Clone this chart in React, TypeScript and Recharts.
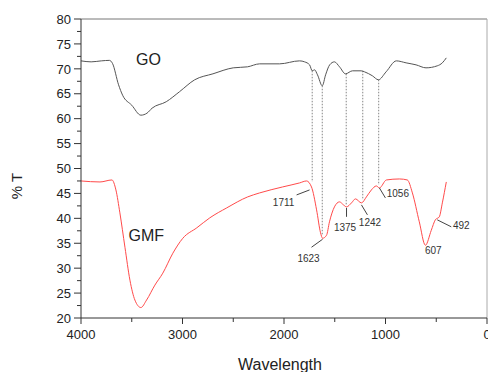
import { LineChart, Line, XAxis, YAxis, ReferenceLine, ReferenceDot, Label } from "recharts";

// GO spectrum (wavenumber, %T)
const goWn = [4000, 3900, 3800, 3720, 3690, 3630, 3590, 3500, 3410, 3350, 3300, 3160, 3030, 2880, 2700, 2500, 2360, 2240, 2043, 1847, 1797, 1748, 1722, 1699, 1670, 1623, 1590, 1550, 1503, 1453, 1394, 1325, 1240, 1207, 1129, 1070, 994, 893, 797, 699, 601, 490, 440, 401];
const goT = [71.6, 71.4, 71.6, 71.7, 71.1, 66.8, 64.7, 62.7, 60.7, 61.1, 62.1, 63.4, 65.4, 67.8, 69.0, 70.2, 70.4, 71.0, 71.0, 71.6, 71.4, 70.8, 69.6, 69.8, 68.8, 66.6, 68.8, 70.8, 71.4, 70.4, 69.0, 69.6, 69.6, 69.4, 68.6, 67.8, 69.4, 71.6, 71.2, 70.8, 70.2, 70.6, 71.2, 72.2];

// GMF spectrum
const gmfWn = [4000, 3813, 3695, 3656, 3617, 3567, 3518, 3469, 3410, 3354, 3272, 3194, 3095, 2997, 2859, 2731, 2564, 2358, 2240, 2014, 1847, 1778, 1729, 1679, 1640, 1620, 1581, 1552, 1503, 1453, 1414, 1384, 1335, 1296, 1237, 1188, 1139, 1090, 1060, 991, 863, 785, 735, 667, 607, 549, 509, 470, 440, 401];
const gmfT = [47.5, 47.3, 47.7, 45.7, 41.1, 34.2, 27.6, 23.6, 22.1, 23.6, 26.6, 29.0, 33.0, 36.0, 38.1, 40.1, 42.1, 44.3, 45.1, 46.3, 47.1, 47.5, 46.3, 41.7, 37.1, 36.0, 36.6, 39.3, 42.3, 43.3, 42.7, 42.3, 43.1, 43.9, 43.1, 44.3, 45.7, 46.5, 46.1, 47.7, 47.9, 47.7, 45.1, 39.3, 34.6, 37.6, 39.7, 40.3, 43.1, 47.3];

// dotted guides linking GO dips to GMF
const guideWn = [1722, 1623, 1387, 1224, 1067];
const guideTop = [69.6, 66.6, 69.0, 69.6, 67.8];
const guideBottom = [47.3, 36.6, 42.7, 43.7, 46.7];

// peak labels: text, label position, leader line
const peakText = ["1711", "1623", "1375", "1242", "1056", "607", "492"];
const peakLabelWn = [2004, 1758, 1399, 1153, 878, 529, 254];
const peakLabelT = [43.1, 32.0, 38.1, 39.1, 45.0, 33.6, 38.6];
const leaderWn: [number, number][] = [[1876, 1748], [1729, 1620], [1384, 1384], [1237, 1178], [1060, 1001], [0, 0], [490, 352]];
const leaderT: [number, number][] = [[44.7, 45.7], [34.2, 35.8], [42.1, 40.3], [42.7, 40.7], [46.1, 44.1], [0, 0], [39.7, 38.3]];

const xTicks = [0, 500, 1000, 1500, 2000, 2500, 3000, 3500, 4000];
const yTicks = [20, 22.5, 25, 27.5, 30, 32.5, 35, 37.5, 40, 42.5, 45, 47.5, 50, 52.5, 55, 57.5, 60, 62.5, 65, 67.5, 70, 72.5, 75, 77.5, 80];

const goData = goWn.map((wn, i) => ({ wn, t: goT[i] }));
const gmfData = gmfWn.map((wn, i) => ({ wn, t: gmfT[i] }));

const FONT = "'Liberation Sans', Arial, sans-serif";

const YTick = ({ x, y, payload }: any) => {
  const major = payload.value % 5 === 0;
  return (
    <g>
      <line x1={x - (major ? 7 : 4)} x2={x} y1={y} y2={y} stroke="#333" />
      {major && (
        <text x={x - 10} y={y} dy={4.7} textAnchor="end" fontSize={13} fill="#222" fontFamily={FONT}>
          {payload.value}
        </text>
      )}
    </g>
  );
};

const XTick = ({ x, y, payload }: any) => {
  const major = payload.value % 1000 === 0;
  return (
    <g>
      <line x1={x} x2={x} y1={y} y2={y + (major ? 6 : 4)} stroke="#333" />
      {major && (
        <text x={x} y={y + 21} textAnchor="middle" fontSize={13} fill="#222" fontFamily={FONT}>
          {payload.value}
        </text>
      )}
    </g>
  );
};

export default function App() {
  return (
    <div style={{ position: "absolute", left: 0, top: 0, background: "#fff" }}>
      <LineChart width={488} height={372} margin={{ top: 19, right: 1, bottom: 0, left: 0 }}>
        <XAxis
          type="number"
          dataKey="wn"
          domain={[0, 4000]}
          reversed
          ticks={xTicks}
          interval={0}
          height={54}
          tickSize={0}
          tickMargin={0}
          tick={<XTick />}
          stroke="#333"
          allowDataOverflow
        >
          <Label
            content={() => (
              <text x={280} y={370} textAnchor="middle" fontSize={16} fill="#222" fontFamily={FONT}>
                Wavelength
              </text>
            )}
          />
        </XAxis>
        <YAxis
          type="number"
          domain={[20, 80]}
          ticks={yTicks}
          interval={0}
          width={81}
          tickSize={0}
          tickMargin={0}
          tick={<YTick />}
          stroke="#333"
          allowDataOverflow
        >
          <Label
            content={() => (
              <text transform="translate(22,186) rotate(-90)" textAnchor="middle" fontSize={15} fill="#222" fontFamily={FONT}>
                % T
              </text>
            )}
          />
        </YAxis>
        <ReferenceLine y={80} stroke="#777" />
        <ReferenceLine x={0} stroke="#aaa" />

        {guideWn.map((wn, i) => (
          <ReferenceLine
            key={"g" + i}
            segment={[{ x: wn, y: guideTop[i] }, { x: wn, y: guideBottom[i] }]}
            stroke="#666"
            strokeWidth={0.8}
            strokeDasharray="1.5 1.5"
          />
        ))}

        <Line data={goData} dataKey="t" type="monotone" stroke="#555" strokeWidth={1} dot={false} isAnimationActive={false} />
        <Line data={gmfData} dataKey="t" type="monotone" stroke="#ff4a4a" strokeWidth={1} dot={false} isAnimationActive={false} />

        {peakText.map((txt, i) =>
          leaderWn[i][0] > 0 ? (
            <ReferenceLine
              key={"l" + i}
              segment={[{ x: leaderWn[i][0], y: leaderT[i][0] }, { x: leaderWn[i][1], y: leaderT[i][1] }]}
              stroke="#444"
              strokeWidth={1}
            />
          ) : null
        )}
        {peakText.map((txt, i) => (
          <ReferenceDot
            key={"p" + i}
            x={peakLabelWn[i]}
            y={peakLabelT[i]}
            r={0}
            fill="none"
            stroke="none"
            label={{ value: txt, position: "center", fontSize: 10, fill: "#333", fontFamily: FONT }}
          />
        ))}
        <ReferenceDot x={3336} y={72.0} r={0} fill="none" stroke="none"
          label={{ value: "GO", position: "center", fontSize: 16, fill: "#222", fontFamily: FONT }} />
        <ReferenceDot x={3356} y={36.6} r={0} fill="none" stroke="none"
          label={{ value: "GMF", position: "center", fontSize: 16, fill: "#222", fontFamily: FONT }} />
      </LineChart>
    </div>
  );
}
